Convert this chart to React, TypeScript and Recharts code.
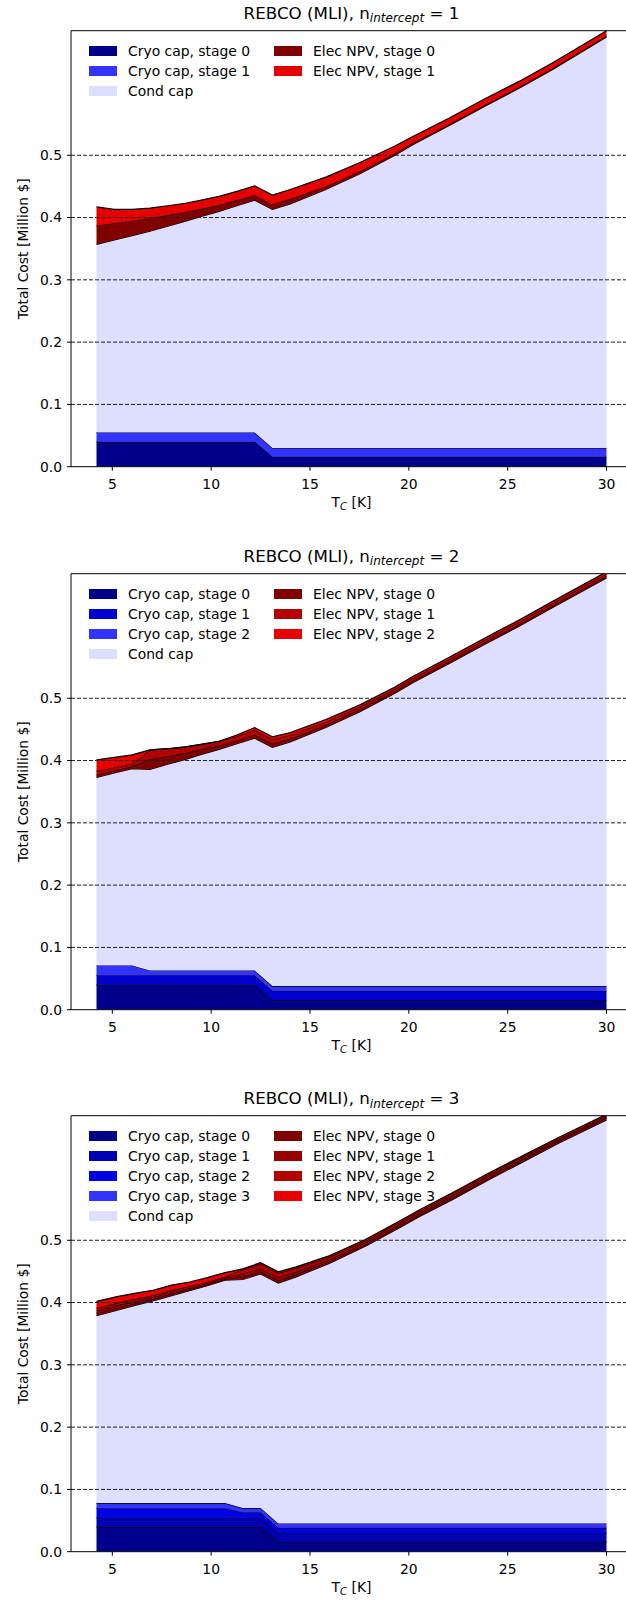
import React from 'react';
import { ComposedChart, Area, XAxis, YAxis, ReferenceLine, Legend } from 'recharts';

const FONT = '"DejaVu Sans", Verdana, sans-serif';

// temperature points [K]; charts 1-2 share a grid, chart 3 has its own
const tempA = [4.2, 5.1, 6.0, 6.9, 7.8, 8.7, 9.5, 10.4, 11.3, 12.2, 13.1, 14.0, 15.8, 17.5, 19.3, 20.2, 22.0, 23.8, 25.6, 27.3, 30.0];
const tempB = [4.2, 5.3, 6.2, 7.1, 8.0, 8.9, 9.8, 10.7, 11.6, 12.5, 13.4, 14.3, 16.0, 17.8, 19.6, 20.5, 22.2, 24.0, 25.8, 27.6, 30.0];

// n_intercept = 1
const n1Cryo0 = [0.040, 0.040, 0.040, 0.040, 0.040, 0.040, 0.040, 0.040, 0.040, 0.040, 0.016, 0.016, 0.016, 0.016, 0.016, 0.016, 0.016, 0.016, 0.016, 0.016, 0.016];
const n1Cryo1 = [0.015, 0.015, 0.015, 0.015, 0.015, 0.015, 0.015, 0.015, 0.015, 0.015, 0.014, 0.014, 0.014, 0.014, 0.014, 0.014, 0.014, 0.014, 0.014, 0.014, 0.014];
const n1Cond = [0.302, 0.309, 0.316, 0.323, 0.331, 0.339, 0.347, 0.355, 0.364, 0.373, 0.383, 0.392, 0.415, 0.440, 0.470, 0.487, 0.517, 0.548, 0.578, 0.608, 0.660];
const n1Elec0 = [0.030, 0.027, 0.024, 0.021, 0.018, 0.015, 0.012, 0.010, 0.009, 0.008, 0.008, 0.008, 0.005, 0.004, 0.003, 0.003, 0.002, 0.002, 0.002, 0.002, 0.002];
const n1Elec1 = [0.030, 0.022, 0.018, 0.016, 0.015, 0.014, 0.014, 0.014, 0.014, 0.015, 0.015, 0.015, 0.015, 0.014, 0.012, 0.010, 0.010, 0.010, 0.009, 0.009, 0.008];

// n_intercept = 2
const n2Cryo0 = [0.040, 0.040, 0.040, 0.040, 0.040, 0.040, 0.040, 0.040, 0.040, 0.040, 0.015, 0.015, 0.015, 0.015, 0.015, 0.015, 0.015, 0.015, 0.015, 0.015, 0.015];
const n2Cryo1 = [0.015, 0.015, 0.015, 0.015, 0.015, 0.015, 0.015, 0.015, 0.015, 0.015, 0.015, 0.015, 0.015, 0.015, 0.015, 0.015, 0.015, 0.015, 0.015, 0.015, 0.015];
const n2Cryo2 = [0.016, 0.016, 0.016, 0.008, 0.008, 0.008, 0.008, 0.008, 0.008, 0.008, 0.008, 0.008, 0.008, 0.008, 0.008, 0.008, 0.008, 0.008, 0.008, 0.008, 0.008];
const n2Cond = [0.302, 0.309, 0.316, 0.323, 0.331, 0.339, 0.347, 0.355, 0.364, 0.373, 0.383, 0.392, 0.415, 0.440, 0.470, 0.487, 0.517, 0.548, 0.578, 0.608, 0.655];
const n2Elec0 = [0.004, 0.004, 0.004, 0.016, 0.013, 0.010, 0.008, 0.006, 0.005, 0.006, 0.006, 0.005, 0.004, 0.004, 0.003, 0.003, 0.003, 0.003, 0.003, 0.003, 0.003];
const n2Elec1 = [0.006, 0.005, 0.004, 0.015, 0.012, 0.010, 0.008, 0.007, 0.007, 0.007, 0.007, 0.006, 0.005, 0.004, 0.004, 0.004, 0.004, 0.004, 0.004, 0.004, 0.004];
const n2Elec2 = [0.018, 0.016, 0.014, 0.000, 0.000, 0.000, 0.000, 0.000, 0.002, 0.004, 0.004, 0.004, 0.004, 0.003, 0.003, 0.003, 0.003, 0.003, 0.003, 0.003, 0.003];

// n_intercept = 3
const n3Cryo0 = [0.040, 0.040, 0.040, 0.040, 0.040, 0.040, 0.040, 0.040, 0.040, 0.040, 0.0155, 0.0155, 0.0155, 0.0155, 0.0155, 0.0155, 0.0155, 0.0155, 0.0155, 0.0155, 0.0155];
const n3Cryo1 = [0.0145, 0.0145, 0.0145, 0.0145, 0.0145, 0.0145, 0.0145, 0.0145, 0.0145, 0.0145, 0.0138, 0.0138, 0.0138, 0.0138, 0.0138, 0.0138, 0.0138, 0.0138, 0.0138, 0.0138, 0.0138];
const n3Cryo2 = [0.015, 0.015, 0.015, 0.015, 0.015, 0.015, 0.015, 0.015, 0.0085, 0.0085, 0.009, 0.009, 0.009, 0.009, 0.009, 0.009, 0.009, 0.009, 0.009, 0.009, 0.009];
const n3Cryo3 = [0.0085, 0.0085, 0.0085, 0.0085, 0.0085, 0.0085, 0.0085, 0.0085, 0.007, 0.007, 0.007, 0.007, 0.007, 0.007, 0.007, 0.007, 0.007, 0.007, 0.007, 0.007, 0.007];
const n3Cond = [0.301, 0.310, 0.318, 0.325, 0.333, 0.341, 0.349, 0.358, 0.367, 0.376, 0.386, 0.396, 0.418, 0.445, 0.476, 0.492, 0.520, 0.551, 0.581, 0.611, 0.648];
const n3Elec0 = [0.004, 0.004, 0.003, 0.003, 0.003, 0.002, 0.002, 0.002, 0.004, 0.004, 0.004, 0.004, 0.003, 0.003, 0.003, 0.003, 0.003, 0.003, 0.003, 0.003, 0.003];
const n3Elec1 = [0.004, 0.004, 0.003, 0.003, 0.003, 0.002, 0.002, 0.002, 0.005, 0.005, 0.005, 0.004, 0.003, 0.003, 0.003, 0.003, 0.003, 0.003, 0.002, 0.002, 0.002];
const n3Elec2 = [0.004, 0.004, 0.004, 0.003, 0.003, 0.003, 0.002, 0.002, 0.007, 0.007, 0.007, 0.006, 0.004, 0.003, 0.003, 0.003, 0.003, 0.003, 0.003, 0.002, 0.002];
const n3Elec3 = [0.011, 0.010, 0.009, 0.008, 0.008, 0.007, 0.007, 0.006, 0.001, 0.002, 0.002, 0.002, 0.002, 0.002, 0.002, 0.002, 0.002, 0.002, 0.002, 0.002, 0.002];

const xTicks = [5, 10, 15, 20, 25, 30];
const yTicks = [0, 0.1, 0.2, 0.3, 0.4, 0.5];

type Layer = { key: string; name: string; color: string; values: number[]; col: number };

const COND = '#dedeff';

const chart1: Layer[] = [
  { key: 'c0', name: 'Cryo cap, stage 0', color: '#00008a', values: n1Cryo0, col: 0 },
  { key: 'c1', name: 'Cryo cap, stage 1', color: '#3333ff', values: n1Cryo1, col: 0 },
  { key: 'cond', name: 'Cond cap', color: COND, values: n1Cond, col: 0 },
  { key: 'e0', name: 'Elec NPV, stage 0', color: '#800000', values: n1Elec0, col: 1 },
  { key: 'e1', name: 'Elec NPV, stage 1', color: '#e60000', values: n1Elec1, col: 1 },
];

const chart2: Layer[] = [
  { key: 'c0', name: 'Cryo cap, stage 0', color: '#00008a', values: n2Cryo0, col: 0 },
  { key: 'c1', name: 'Cryo cap, stage 1', color: '#0000cc', values: n2Cryo1, col: 0 },
  { key: 'c2', name: 'Cryo cap, stage 2', color: '#3333ff', values: n2Cryo2, col: 0 },
  { key: 'cond', name: 'Cond cap', color: COND, values: n2Cond, col: 0 },
  { key: 'e0', name: 'Elec NPV, stage 0', color: '#800000', values: n2Elec0, col: 1 },
  { key: 'e1', name: 'Elec NPV, stage 1', color: '#b30000', values: n2Elec1, col: 1 },
  { key: 'e2', name: 'Elec NPV, stage 2', color: '#e60000', values: n2Elec2, col: 1 },
];

const chart3: Layer[] = [
  { key: 'c0', name: 'Cryo cap, stage 0', color: '#00008a', values: n3Cryo0, col: 0 },
  { key: 'c1', name: 'Cryo cap, stage 1', color: '#0000b3', values: n3Cryo1, col: 0 },
  { key: 'c2', name: 'Cryo cap, stage 2', color: '#0000e6', values: n3Cryo2, col: 0 },
  { key: 'c3', name: 'Cryo cap, stage 3', color: '#3333ff', values: n3Cryo3, col: 0 },
  { key: 'cond', name: 'Cond cap', color: COND, values: n3Cond, col: 0 },
  { key: 'e0', name: 'Elec NPV, stage 0', color: '#800000', values: n3Elec0, col: 1 },
  { key: 'e1', name: 'Elec NPV, stage 1', color: '#990000', values: n3Elec1, col: 1 },
  { key: 'e2', name: 'Elec NPV, stage 2', color: '#b30000', values: n3Elec2, col: 1 },
  { key: 'e3', name: 'Elec NPV, stage 3', color: '#e60000', values: n3Elec3, col: 1 },
];

// layout (px)
const W = 650;
const H = 530;
const PLOT_TOP = 30.7;
const PLOT_H = 436;
const AXIS_W = 71;
const PLOT_RIGHT = 632;

const XLabel = () => (
  <text x={(AXIS_W + PLOT_RIGHT) / 2} y={PLOT_TOP + PLOT_H + 40} textAnchor="middle" fontFamily={FONT} fontSize={13.9} fill="#000">
    <tspan>T</tspan>
    <tspan fontSize={10} fontStyle="italic" dy={3}>C</tspan>
    <tspan dy={-3}> [K]</tspan>
  </text>
);

const YLabel = () => {
  const cx = 23;
  const cy = PLOT_TOP + PLOT_H / 2;
  return (
    <text x={cx} y={cy} transform={`rotate(-90 ${cx} ${cy})`} textAnchor="middle" dominantBaseline="central" fontFamily={FONT} fontSize={13.9} fill="#000">
      Total Cost [Million $]
    </text>
  );
};

const LegendBox = ({ layers }: { layers: Layer[] }) => (
  <div style={{ display: 'flex', fontFamily: FONT, fontSize: 13.9, color: '#000' }}>
    {[0, 1].map((c) => (
      <div key={c} style={{ width: c === 0 ? 185 : 200 }}>
        {layers.filter((l) => l.col === c).map((l) => (
          <div key={l.key} style={{ height: 20, display: 'flex', alignItems: 'center', whiteSpace: 'nowrap' }}>
            <span style={{ width: 28, height: 10, background: l.color, marginRight: 11, display: 'inline-block' }} />
            {l.name}
          </div>
        ))}
      </div>
    ))}
  </div>
);

const CostChart = ({ n, temps, layers, top }: { n: number; temps: number[]; layers: Layer[]; top: number }) => {
  const data = temps.map((t, i) => {
    const row: Record<string, number> = { T: t };
    layers.forEach((l) => {
      row[l.key] = l.values[i];
    });
    return row;
  });

  return (
    <div style={{ position: 'absolute', left: 0, top, width: W, height: H }}>
      <div
        style={{
          position: 'absolute',
          left: AXIS_W,
          width: PLOT_RIGHT - AXIS_W,
          top: 5,
          textAlign: 'center',
          fontFamily: FONT,
          fontSize: 16.7,
          lineHeight: 1,
          zIndex: 2,
        }}
      >
        REBCO (MLI), n
        <span style={{ fontStyle: 'italic', fontSize: '0.72em', position: 'relative', top: '0.28em' }}>intercept</span>
        {` = ${n}`}
      </div>
      <ComposedChart width={W} height={H} data={data} margin={{ top: PLOT_TOP, right: W - PLOT_RIGHT, bottom: H - PLOT_TOP - PLOT_H - 50, left: 0 }}>
        <XAxis
          type="number"
          dataKey="T"
          domain={[2.91, 31.29]}
          ticks={xTicks}
          allowDataOverflow
          height={50}
          stroke="#000"
          tickSize={4}
          tickMargin={8}
          tick={{ fill: '#000', fontSize: 13.9, fontFamily: FONT }}
          label={<XLabel />}
        />
        <YAxis
          type="number"
          domain={[0, 0.7]}
          ticks={yTicks}
          allowDataOverflow
          width={AXIS_W}
          stroke="#000"
          tickSize={4}
          tickMargin={5}
          tickFormatter={(v: number) => v.toFixed(1)}
          tick={{ fill: '#000', fontSize: 13.9, fontFamily: FONT }}
          label={<YLabel />}
        />
        {layers.map((l) => (
          <Area
            key={l.key}
            type="linear"
            dataKey={l.key}
            name={l.name}
            stackId="cost"
            fill={l.color}
            fillOpacity={1}
            stroke="#000"
            strokeWidth={1.2}
            dot={false}
            activeDot={false}
            isAnimationActive={false}
          />
        ))}
        {yTicks.slice(1).map((v) => (
          <ReferenceLine key={v} y={v} stroke="#222" strokeWidth={1} strokeDasharray="4 2" />
        ))}
        <ReferenceLine y={0.7} stroke="#000" strokeWidth={1} />
        <Legend
          layout="vertical"
          align="center"
          verticalAlign="middle"
          content={() => <LegendBox layers={layers} />}
          wrapperStyle={{ left: 89, top: PLOT_TOP + 10.3, width: 420, height: 'auto' }}
        />
      </ComposedChart>
    </div>
  );
};

export default function App() {
  return (
    <div style={{ position: 'absolute', left: 0, top: 0, width: 626, height: 1604, overflow: 'hidden', background: '#fff' }}>
      <CostChart n={1} temps={tempA} layers={chart1} top={0} />
      <CostChart n={2} temps={tempA} layers={chart2} top={542.5} />
      <CostChart n={3} temps={tempB} layers={chart3} top={1085.3} />
    </div>
  );
}
